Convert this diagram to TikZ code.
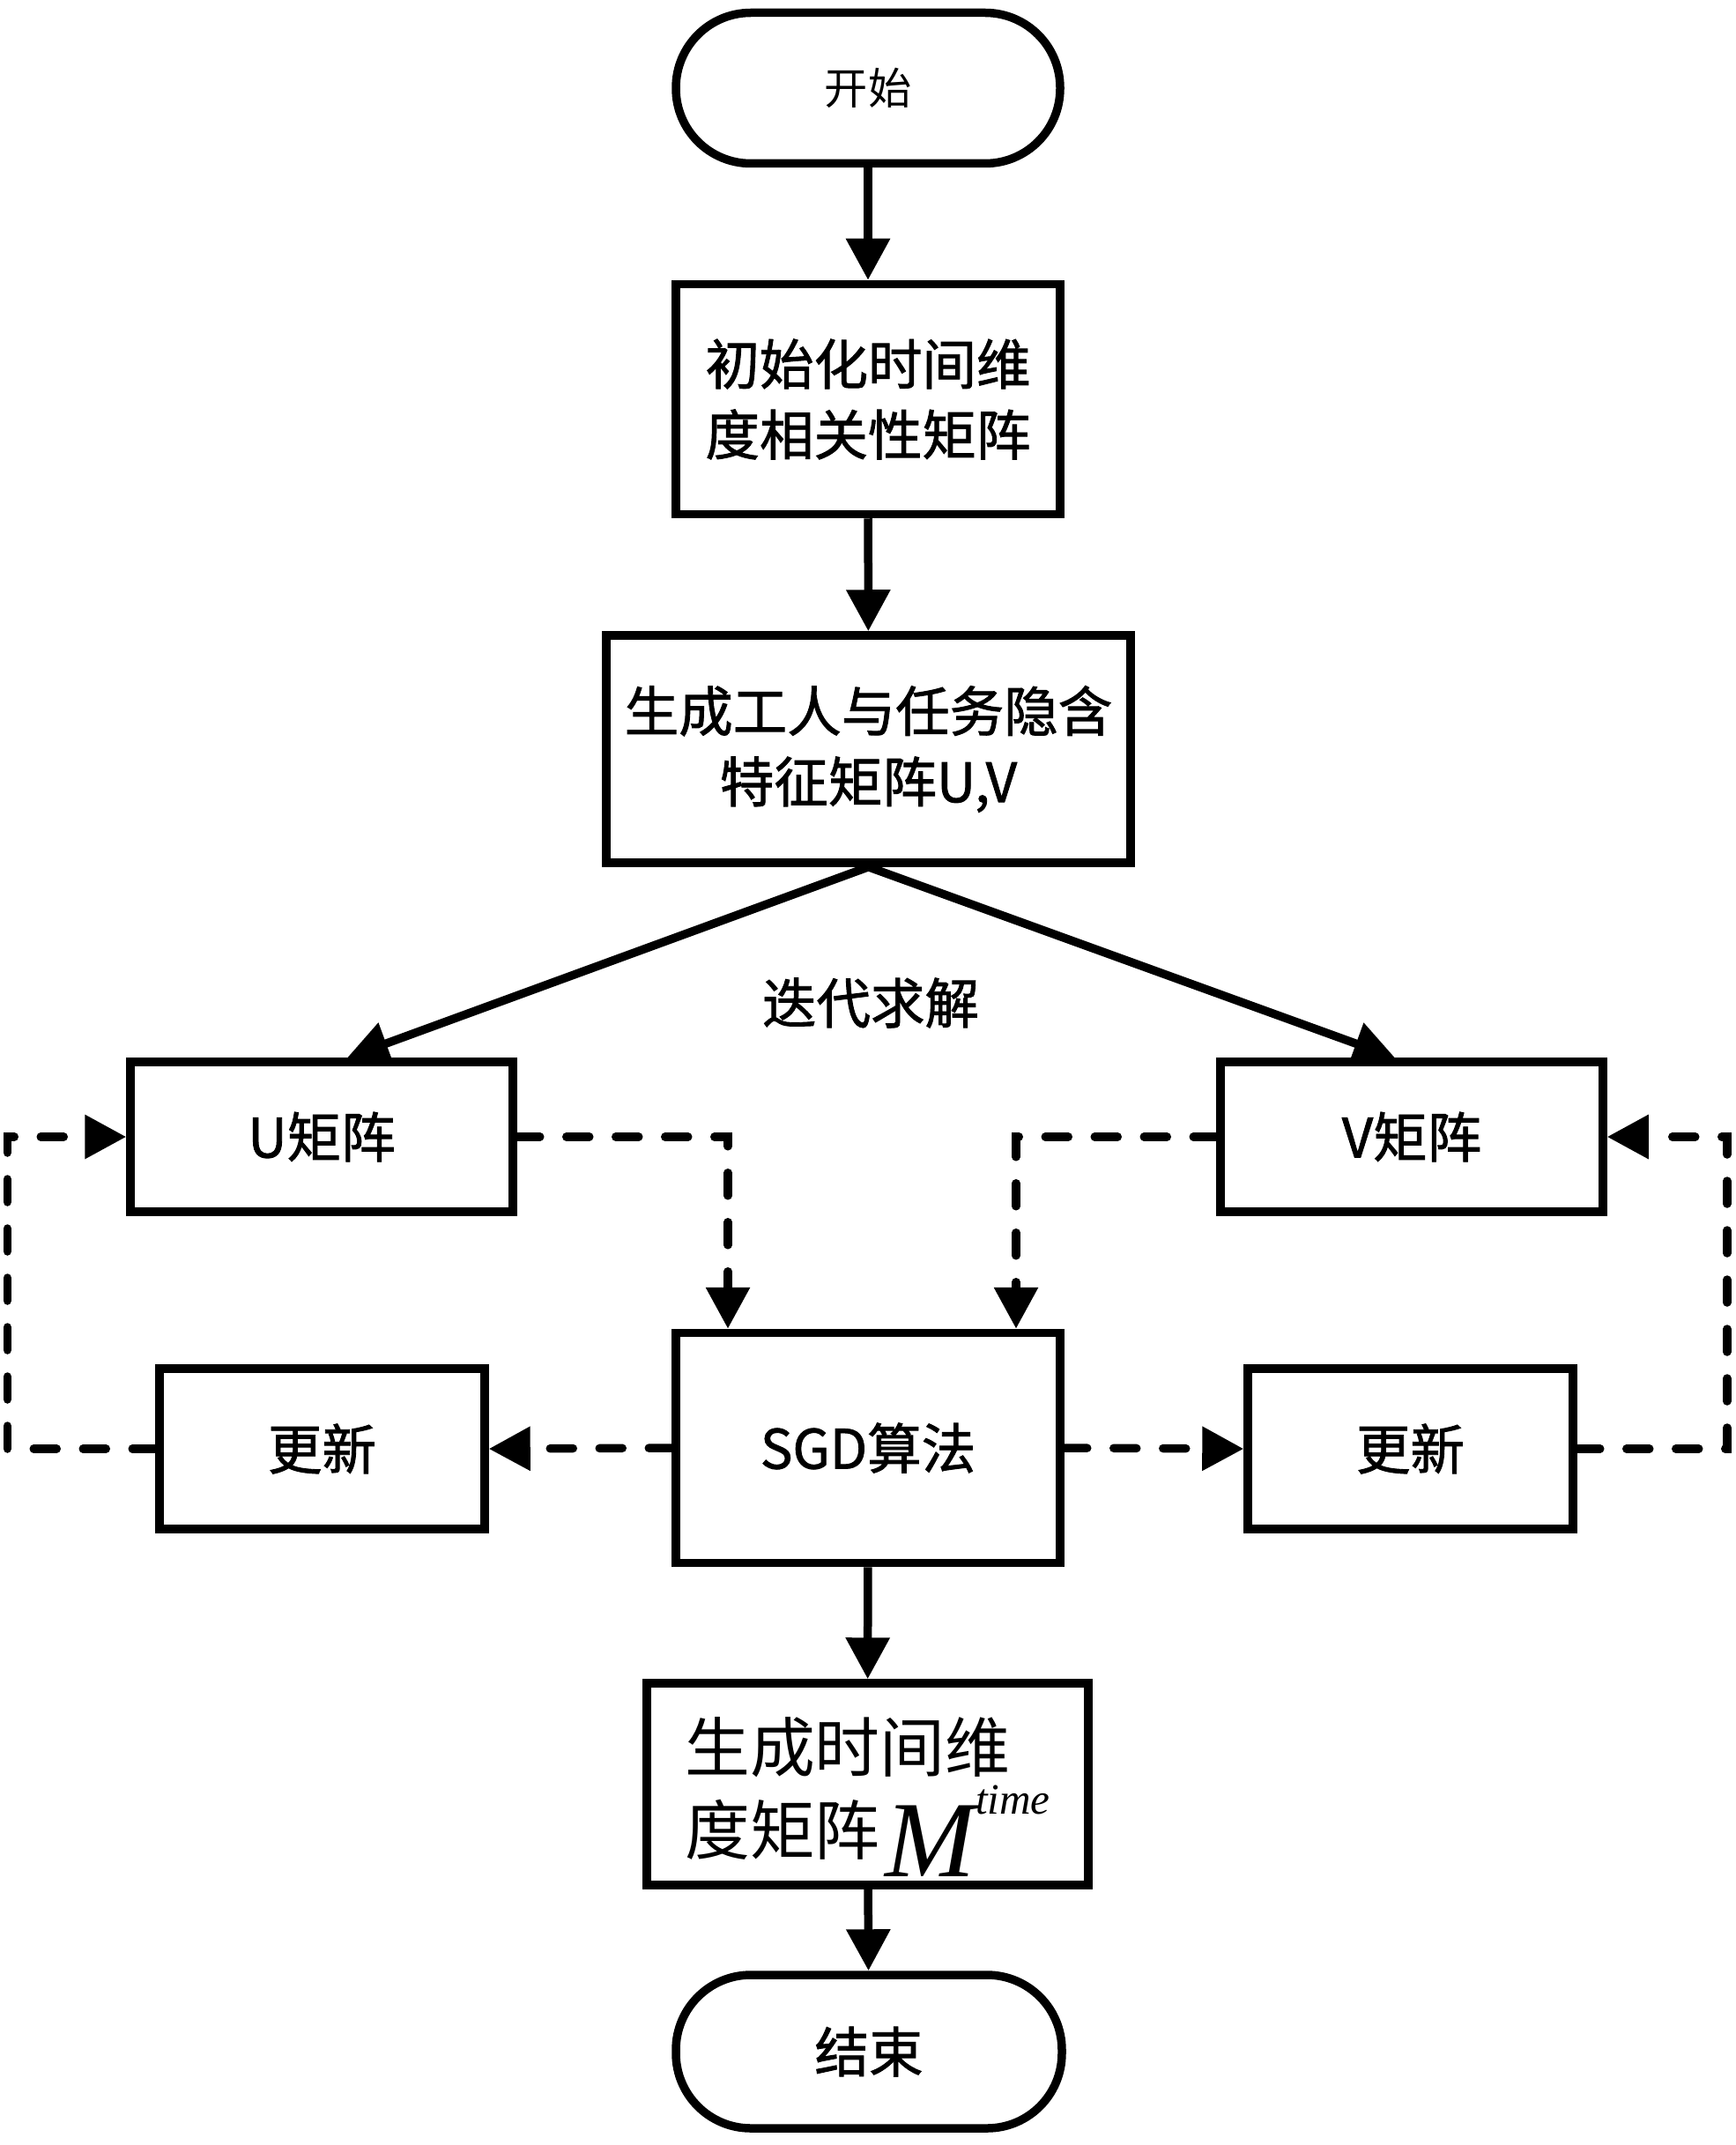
\documentclass[tikz,border=0pt]{standalone}
\usepackage{fontspec}
\setmainfont{Noto Sans CJK SC}
\newfontfamily\flowfont{Noto Sans CJK SC}[FakeBold=1.4]
\newfontfamily\timesfont{Liberation Serif}
\usetikzlibrary{arrows.meta}

\tikzset{
  procbox/.style={draw, line width=0.95mm, inner sep=0pt, align=center,
    font=\flowfont\fontsize{17.5}{22.8}\selectfont},
  termbox/.style={procbox, rounded corners=8.5mm},
  flow/.style={line width=0.95mm, -{Triangle[length=4.7mm,width=4.8mm]}},
  loopflow/.style={flow, line cap=round, dash pattern=on 2.6mm off 3.0mm}
}

\begin{document}
\begin{tikzpicture}
	\useasboundingbox (0,0) rectangle (19.69,-24.34);
	% main column
	\node[termbox, minimum width=4.36cm, minimum height=1.71cm, font=\fontsize{14}{17}\selectfont] (start) at (9.85,-1.00) {开始};
	\node[procbox, minimum width=4.36cm, minimum height=2.61cm] (init) at (9.85,-4.53) {初始化时间维\\度相关性矩阵};
	\node[procbox, minimum width=5.95cm, minimum height=2.58cm] (gen) at (9.855,-8.50) {生成工人与任务隐含\\特征矩阵U,V};
	\node[font=\flowfont\fontsize{17.5}{22.8}\selectfont] (iterlabel) at (9.88,-11.38) {迭代求解};
	\node[procbox, minimum width=4.34cm, minimum height=1.70cm] (umat) at (3.65,-12.90) {U矩阵};
	\node[procbox, minimum width=4.34cm, minimum height=1.70cm] (vmat) at (16.02,-12.90) {V矩阵};
	\node[procbox, minimum width=4.36cm, minimum height=2.61cm] (sgd) at (9.85,-16.43) {SGD算法};
	\node[procbox, minimum width=3.69cm, minimum height=1.82cm] (uupd) at (3.655,-16.44) {更新};
	\node[procbox, minimum width=3.69cm, minimum height=1.82cm] (vupd) at (16.005,-16.44) {更新};
	\node[procbox, minimum width=5.01cm, minimum height=2.29cm, align=left, font=\fontsize{21}{26.7}\selectfont] (mtime) at (9.845,-20.245)
	  {\rule{0pt}{9.1mm}生成时间维\\度矩阵\hspace{0.6mm}\raisebox{-2.5mm}{\timesfont\itshape\fontsize{35}{35}\selectfont M}\raisebox{4.6mm}{\timesfont\itshape\fontsize{14}{14}\selectfont time}};
	\node[termbox, minimum width=4.38cm, minimum height=1.74cm] (stop) at (9.86,-23.28) {结束};
	% solid arrows
	\draw[flow] (start) -- (init);
	\draw[flow] (init) -- (gen);
	\draw[flow] (gen.south) -- ([xshift=2.9mm]umat.north);
	\draw[flow] (gen.south) -- ([xshift=-1.9mm]vmat.north);
	\draw[flow] (sgd) -- (mtime);
	\draw[flow] (mtime) -- (stop);
	% dashed loop
	\draw[loopflow] (umat.east) -| ([xshift=-1.59cm]sgd.north);
	\draw[loopflow] (vmat.west) -| ([xshift=1.68cm]sgd.north);
	\draw[loopflow] (sgd.west) -- (uupd.east);
	\draw[loopflow] (sgd.east) -- (vupd.west);
	\draw[loopflow] (uupd.west) -- ++(-1.68,0) |- (umat.west);
	\draw[loopflow] (vupd.east) -- ++(1.70,0) |- (vmat.east);
\end{tikzpicture}
\end{document}
